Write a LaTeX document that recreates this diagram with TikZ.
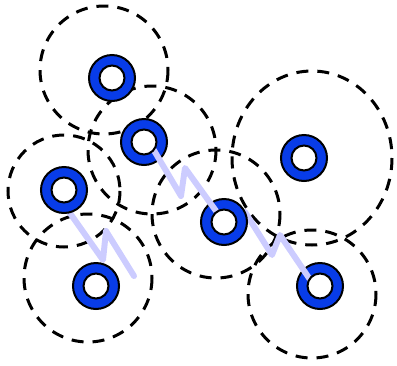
\documentclass[tikz,border=0pt]{standalone}
\begin{document}
\begin{tikzpicture}[x=1pt,y=-1pt,
  zone/.style={draw=black,line width=3pt,dash pattern=on 12pt off 9pt},
  ringbody/.style={circle,draw=black,line width=2pt,fill=ringblue,minimum size=46pt,inner sep=0pt,outer sep=0pt},
  ringhole/.style={circle,draw=black,line width=2pt,fill=white,minimum size=25pt,inner sep=0pt,outer sep=0pt},
  spring/.style={draw=springlav,line width=6pt,line join=round,line cap=round}]
\definecolor{ringblue}{RGB}{8,60,232}
\definecolor{springlav}{RGB}{204,204,255}
\useasboundingbox (0,0) rectangle (397,365);
% dashed zones
\draw[zone] (104,70) circle (64);
\draw[zone] (152,150) circle (64);
\draw[zone] (64,191) circle (56);
\draw[zone] (88,278) circle (64);
\draw[zone] (216,214) circle (64);
\draw[zone] (312,158) ellipse (80 and 87);
\draw[zone] (312,294) circle (64);
% coordinates of the springs
\coordinate (s25) at (149,142);
\coordinate (a25) at (181,196);
\coordinate (b25) at (185,168);
\coordinate (s57) at (245,212);
\coordinate (a57) at (272,255);
\coordinate (b57) at (280,235);
\coordinate (e57) at (311,281);
\coordinate (s34) at (60,199);
\coordinate (a34) at (103,260);
\coordinate (b34) at (106,231);
\coordinate (e34) at (134,276);
% rings and springs in layer order
\node[ringbody] (r7) at (320,286) {};
\draw[spring] (s57) -- (a57) -- (b57) -- (e57);
\node[ringbody] (r5) at (224,222) {};
\node[ringbody] (r2) at (144,142) {};
\draw[spring] (s25) -- (a25) -- (b25) -- (r5.center);
\draw[spring] (s34) -- (a34) -- (b34) -- (e34);
\node[ringbody] (r3) at (64,190) {};
\node[ringbody] (r4) at (96,286) {};
\node[ringbody] (r1) at (112,78) {};
\node[ringbody] (r6) at (304,158) {};
% holes
\node[ringhole] (h1) at (r1) {};
\node[ringhole] (h2) at (r2) {};
\node[ringhole] (h3) at (r3) {};
\node[ringhole] (h4) at (r4) {};
\node[ringhole] (h5) at (r5) {};
\node[ringhole] (h6) at (r6) {};
\node[ringhole] (h7) at (r7) {};
\end{tikzpicture}
\end{document}
